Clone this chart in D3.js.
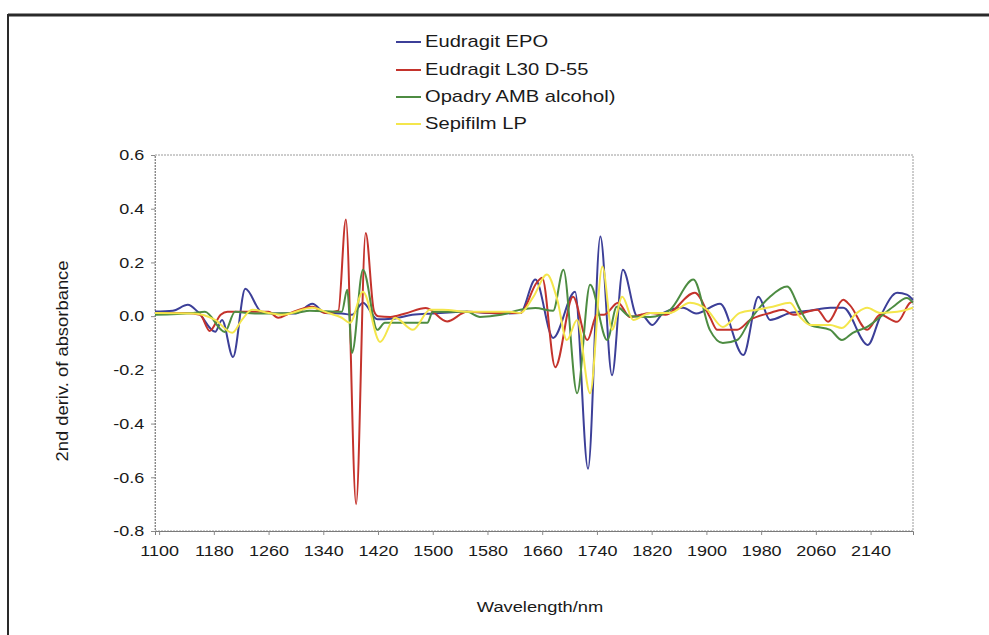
<!DOCTYPE html>
<html>
<head>
<meta charset="utf-8">
<script src="https://cdn.jsdelivr.net/npm/d3@7"></script>
<style>
  html, body { margin: 0; padding: 0; background: #ffffff; }
  text { font-family: "Liberation Sans", Arial, Helvetica, sans-serif; fill: #1a1a1a; }
</style>
</head>
<body>
<svg id="chart" width="989" height="635"></svg>
<script>
// ---- data (wavelength nm, 2nd derivative) ----
const seriesNames = ["Eudragit EPO", "Eudragit L30 D-55", "Opadry AMB alcohol)", "Sepifilm LP"];
const seriesColors = ["#3c3f98", "#c4332c", "#4d8c42", "#f4e64c"];

const eudragitEPO = [
  [1094,0.017],[1120,0.02],[1142,0.042],[1157,0.015],[1182,-0.058],[1192,-0.014],[1208,-0.152],
  [1226,0.102],[1250,0.015],[1270,0.01],[1300,0.01],[1324,0.046],[1343,0.012],[1367,0.01],
  [1382,0.005],[1398,0.05],[1419,-0.012],[1440,-0.01],[1470,0.005],[1500,0.01],[1550,0.016],
  [1600,0.01],[1628,0.012],[1650,0.136],[1676,-0.081],[1708,0.091],[1727,-0.568],[1745,0.297],
  [1762,-0.22],[1778,0.173],[1799,0.0],[1805,0.005],[1821,-0.033],[1837,0.012],[1866,0.031],
  [1885,0.01],[1920,0.046],[1954,-0.145],[1976,0.072],[1993,-0.014],[2022,0.012],[2050,0.02],
  [2081,0.031],[2100,0.031],[2136,-0.107],[2154,-0.003],[2179,0.087],[2193,0.08],[2202,0.06]
];
const eudragitL30 = [
  [1094,0.012],[1140,0.012],[1160,0.005],[1174,-0.055],[1190,0.005],[1200,0.016],[1260,0.016],
  [1274,-0.006],[1290,0.01],[1324,0.035],[1343,0.012],[1362,0.02],[1373,0.36],[1388,-0.70],
  [1402,0.31],[1414,0.02],[1420,0.0],[1438,-0.003],[1460,0.01],[1490,0.03],[1521,-0.02],
  [1550,0.016],[1600,0.012],[1628,0.012],[1652,0.125],[1660,0.143],[1679,-0.19],[1705,0.072],
  [1726,-0.089],[1740,0.005],[1750,0.005],[1771,0.05],[1788,-0.003],[1818,0.012],[1840,0.005],
  [1883,0.087],[1905,-0.003],[1916,-0.051],[1945,-0.051],[1964,-0.014],[1993,0.012],[2012,0.024],
  [2027,0.005],[2062,0.024],[2078,-0.021],[2100,0.061],[2110,0.04],[2135,-0.051],[2154,0.005],
  [2179,-0.021],[2198,0.05],[2202,0.054]
];
const opadryAMB = [
  [1094,0.005],[1150,0.012],[1167,0.016],[1196,-0.059],[1211,0.016],[1240,0.01],[1300,0.012],
  [1320,0.02],[1367,0.016],[1375,0.098],[1382,-0.137],[1398,0.173],[1419,-0.051],[1430,-0.025],
  [1492,-0.025],[1500,0.016],[1550,0.016],[1569,-0.003],[1600,0.005],[1628,0.024],[1650,0.03],
  [1676,0.02],[1691,0.173],[1711,-0.287],[1730,0.117],[1755,-0.089],[1769,0.035],[1788,0.0],
  [1818,-0.003],[1847,0.024],[1881,0.136],[1905,-0.051],[1924,-0.1],[1945,-0.089],[1964,-0.014],
  [1993,0.072],[2018,0.11],[2037,0.024],[2052,-0.033],[2081,-0.051],[2098,-0.089],[2114,-0.062],
  [2135,-0.04],[2154,-0.003],[2173,0.035],[2193,0.068],[2202,0.05]
];
const sepifilmLP = [
  [1094,0.012],[1150,0.01],[1182,-0.014],[1207,-0.062],[1221,-0.014],[1236,0.024],[1260,0.012],
  [1280,0.005],[1324,0.031],[1347,0.012],[1367,-0.006],[1379,-0.025],[1398,0.091],[1423,-0.096],
  [1445,-0.006],[1471,-0.051],[1496,0.024],[1515,0.024],[1550,0.016],[1613,0.016],[1628,0.012],
  [1647,0.072],[1667,0.155],[1682,0.061],[1696,-0.089],[1711,-0.014],[1730,-0.287],[1748,0.185],
  [1762,-0.051],[1777,0.072],[1793,-0.014],[1818,0.012],[1847,0.012],[1876,0.05],[1901,0.024],
  [1924,-0.04],[1949,0.012],[1974,0.024],[1997,0.035],[2022,0.05],[2037,-0.003],[2052,-0.033],
  [2081,-0.033],[2098,-0.044],[2120,0.012],[2135,0.031],[2154,0.012],[2179,0.016],[2202,0.031]
];
const xTickValues = [1100,1180,1260,1340,1420,1500,1580,1660,1740,1820,1900,1980,2060,2140];
const yTickValues = [0.6,0.4,0.2,0.0,-0.2,-0.4,-0.6,-0.8];
const xTitle = "Wavelength/nm";
const yTitle = "2nd deriv. of absorbance";

// ---- drawing ----
const svg = d3.select("#chart");
const plot = {left:155, right:913, top:155, bottom:531};
const stretch = "scale(1.2,1)";

// outer frame
svg.append("rect").attr("x",0).attr("y",0).attr("width",989).attr("height",635).attr("fill","#ffffff");
svg.append("line").attr("x1",8).attr("x2",989).attr("y1",15).attr("y2",15).attr("stroke","#2a2a2a").attr("stroke-width",3);
svg.append("line").attr("x1",8).attr("x2",8).attr("y1",14).attr("y2",635).attr("stroke","#2a2a2a").attr("stroke-width",2);

const x = d3.scaleLinear().domain([1094, 2202]).range([plot.left, plot.right]);
const y = d3.scaleLinear().domain([-0.8, 0.6]).range([plot.bottom, plot.top]);

// plot area border
svg.append("rect")
  .attr("x", plot.left).attr("y", plot.top)
  .attr("width", plot.right - plot.left).attr("height", plot.bottom - plot.top)
  .attr("fill", "none").attr("stroke", "#9a9a9a").attr("stroke-width", 1)
  .attr("stroke-dasharray", "2,1");

// y axis
const yAxis = d3.axisLeft(y).tickValues(yTickValues).tickFormat(d => d.toFixed(1)).tickSize(4).tickPadding(5);
const gy = svg.append("g").attr("transform", `translate(${plot.left},0)`).call(yAxis);
gy.select(".domain").attr("stroke", "#8a8a8a").attr("stroke-dasharray", "2,1");
gy.selectAll(".tick line").attr("stroke", "#8a8a8a");
gy.selectAll(".tick text").attr("font-size", 15).attr("fill", "#1a1a1a")
  .attr("font-family", '"Liberation Sans", Arial, sans-serif').attr("transform", stretch);

// x axis
const xAxis = d3.axisBottom(x).tickValues(xTickValues).tickFormat(d => String(d)).tickSize(4).tickPadding(10);
const gx = svg.append("g").attr("transform", `translate(0,${plot.bottom})`).call(xAxis);
gx.select(".domain").attr("stroke", "#7a7a7a");
gx.selectAll(".tick line").attr("stroke", "#8a8a8a");
gx.selectAll(".tick text").attr("font-size", 15).attr("fill", "#1a1a1a")
  .attr("font-family", '"Liberation Sans", Arial, sans-serif').attr("transform", stretch);

// titles
svg.append("text").attr("x", 540).attr("y", 612).attr("text-anchor", "middle")
  .attr("font-size", 15).attr("transform", "translate(540,0) scale(1.22,1) translate(-540,0)")
  .text(xTitle);
svg.append("text").attr("text-anchor", "middle").attr("font-size", 16)
  .attr("transform", "translate(68,361) rotate(-90) scale(1.15,1)")
  .text(yTitle);

// lines
const line = d3.line().x(d => x(d[0])).y(d => y(d[1])).curve(d3.curveMonotoneX);
const allSeries = [eudragitEPO, eudragitL30, opadryAMB, sepifilmLP];
const g = svg.append("g");
allSeries.forEach((s, i) => {
  g.append("path").datum(s).attr("d", line).attr("fill", "none")
    .attr("stroke", seriesColors[i]).attr("stroke-width", 2).attr("stroke-linejoin", "round");
});

// legend
const legendY = [42, 70, 97, 124];
const lg = svg.append("g");
seriesNames.forEach((name, i) => {
  lg.append("line").attr("x1", 396).attr("x2", 421).attr("y1", legendY[i]).attr("y2", legendY[i])
    .attr("stroke", seriesColors[i]).attr("stroke-width", 2);
  lg.append("text").attr("x", 425).attr("y", legendY[i] + 5.5).attr("font-size", 16)
    .attr("transform", `translate(425,0) scale(1.26,1) translate(-425,0)`)
    .text(name);
});
</script>
</body>
</html>
